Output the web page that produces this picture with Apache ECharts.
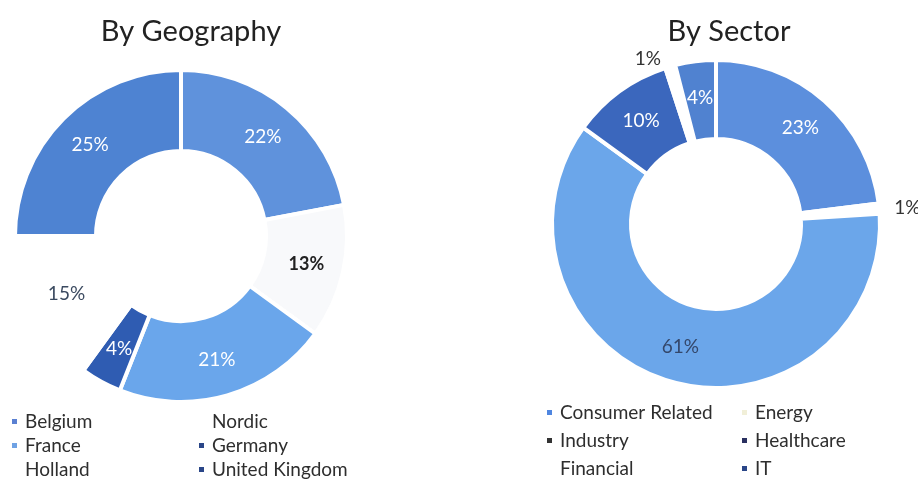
<!DOCTYPE html>
<html>
<head>
<meta charset="utf-8">
<script src="https://cdn.jsdelivr.net/npm/echarts@6/dist/echarts.min.js"></script>
<style>
	html, body { margin: 0; padding: 0; background: #fff; }
	#chart { width: 918px; height: 479px; }
</style>
</head>
<body>
<div id="chart"></div>
<script>
// 地区分布
const geoNames = ['Belgium', 'Nordic', 'France', 'Germany', 'Holland', 'United Kingdom']
const geoValues = [22, 13, 21, 4, 15, 25]
const geoColors = ['#5f92dc', '#f8f9fb', '#6aa6eb', '#2f5cb2', '#ffffff', '#4e83d2']

// 行业分布
const sectorNames = ['Consumer Related', 'Energy', 'Industry', 'Healthcare', 'Financial', 'IT']
const sectorValues = [23, 1, 61, 10, 1, 4]
const sectorColors = ['#5c8fdd', '#ffffff', '#6ba6ea', '#3b67bd', '#ffffff', '#5082d0']

// 图例标记颜色(扫描件里与扇区略有不同)
const geoLegendColors = { Belgium: '#5a80d2', Nordic: '#ffffff', France: '#6fa2e4', Germany: '#2a4688', Holland: '#ffffff', 'United Kingdom': '#2a4688' }
const sectorLegendColors = { 'Consumer Related': '#4f86e0', Energy: '#f1efd8', Industry: '#333333', Healthcare: '#2a3060', Financial: '#ffffff', IT: '#2a4688' }

const FONT = 'Lato'
const chart = echarts.init(document.getElementById('chart'))

function legendCol(names, colors, left, top, gap) {
	return {
		orient: 'vertical',
		left: left,
		top: top,
		itemWidth: 7,
		itemHeight: 7,
		itemGap: gap,
		icon: 'rect',
		padding: 0,
		selectedMode: false,
		textStyle: { fontFamily: FONT, fontSize: 19, color: '#2e2e2e', padding: [0, 0, 0, 2] },
		data: names.map(n => ({ name: n, itemStyle: { color: colors[n] } })),
	}
}

function buildData(names, values, colors, labelFn) {
	return names.map((name, i) => {
		const item = { name, value: values[i], itemStyle: { color: colors[i] } }
		const lbl = labelFn(name)
		if (lbl) item.label = lbl
		return item
	})
}

const geoData = buildData(geoNames, geoValues, geoColors, name => {
	if (name === 'Nordic') return { color: '#222', fontWeight: 'bold', fontSize: 18 }
	if (name === 'Holland') return { color: '#3b4a60' }
	return null
})

const sectorData = buildData(sectorNames, sectorValues, sectorColors, name => {
	if (name === 'Energy' || name === 'Financial') {
		return { position: 'outside', color: '#333' }
	}
	if (name === 'Industry') return { color: '#34476a' }
	return null
})

const pieBase = {
	type: 'pie',
	radius: [85, 166],
	startAngle: 90,
	clockwise: true,
	avoidLabelOverlap: false,
	silent: true,
	itemStyle: { borderColor: '#fff', borderWidth: 4 },
	label: {
		show: true,
		position: 'inside',
		formatter: '{c}%',
		fontFamily: FONT,
		fontSize: 19,
		color: '#fff',
	},
	labelLine: { show: false, length: 8, length2: 2 },
}

chart.setOption({
	animation: false,
	title: [
		{ text: 'By Geography', left: 186, top: 12, textAlign: 'center', textStyle: { fontFamily: FONT, fontSize: 29, fontWeight: 'normal', color: '#222' } },
		{ text: 'By Sector', left: 724, top: 12, textAlign: 'center', textStyle: { fontFamily: FONT, fontSize: 29, fontWeight: 'normal', color: '#222' } },
	],
	legend: [
		legendCol(['Belgium', 'France', 'Holland'], geoLegendColors, 10, 412, 5),
		legendCol(['Nordic', 'Germany', 'United Kingdom'], geoLegendColors, 197, 412, 5),
		legendCol(['Consumer Related', 'Industry', 'Financial'], sectorLegendColors, 545, 403, 9),
		legendCol(['Energy', 'Healthcare', 'IT'], sectorLegendColors, 740, 403, 9),
	],
	series: [
		{ ...pieBase, name: 'By Geography', center: [181, 236], data: geoData },
		{ ...pieBase, name: 'By Sector', center: [716, 224], radius: [85, 164], data: sectorData },
	],
})
</script>
</body>
</html>
